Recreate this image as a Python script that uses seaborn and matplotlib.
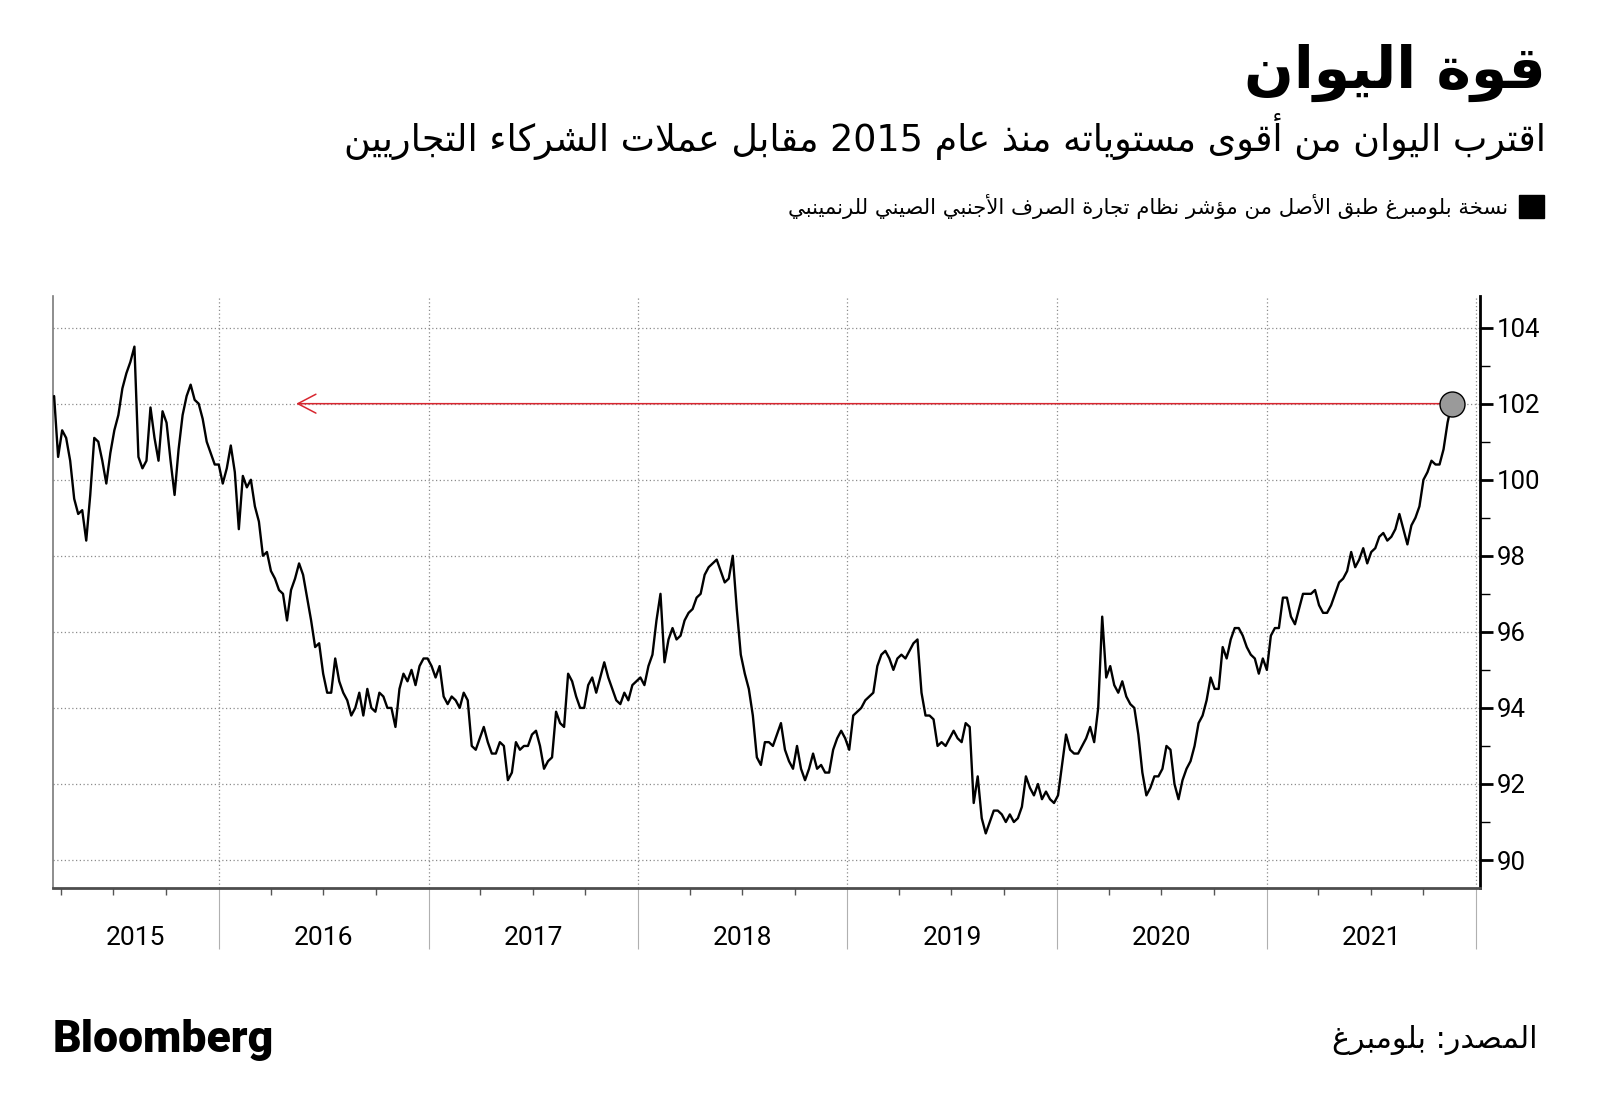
import re

import matplotlib
matplotlib.use('Agg')
import matplotlib.dates as mdates
import matplotlib.pyplot as plt
import matplotlib.transforms as mtransforms
import pandas as pd
import seaborn as sns
from matplotlib.patches import Rectangle
from matplotlib.ticker import MultipleLocator, NullFormatter

sns.set_theme(style='white')
plt.rcParams['font.family'] = ['DejaVu Sans']
plt.rcParams['figure.facecolor'] = 'white'
plt.rcParams['text.color'] = 'black'
plt.rcParams['xtick.color'] = 'black'
plt.rcParams['ytick.color'] = 'black'

# ---------------------------------------------------------------------------
# Data: weekly readings of Bloomberg's CFETS RMB index replica
# ---------------------------------------------------------------------------
START = '2015-03-20'
VALUES = [
    102.2, 100.6, 101.3, 101.1, 100.5, 99.5, 99.1, 99.2, 98.4, 99.6,
    101.1, 101.0, 100.5, 99.9, 100.7, 101.3, 101.7, 102.4, 102.8, 103.1,
    103.5, 100.6, 100.3, 100.5, 101.9, 101.1, 100.5, 101.8, 101.5, 100.5,
    99.6, 100.8, 101.7, 102.2, 102.5, 102.1, 102.0, 101.6, 101.0, 100.7,
    100.4, 100.4, 99.9, 100.3, 100.9, 100.2, 98.7, 100.1, 99.8, 100.0,
    99.3, 98.9, 98.0, 98.1, 97.6, 97.4, 97.1, 97.0, 96.3, 97.1,
    97.4, 97.8, 97.5, 96.9, 96.3, 95.6, 95.7, 94.9, 94.4, 94.4,
    95.3, 94.7, 94.4, 94.2, 93.8, 94.0, 94.4, 93.8, 94.5, 94.0,
    93.9, 94.4, 94.3, 94.0, 94.0, 93.5, 94.5, 94.9, 94.7, 95.0,
    94.6, 95.1, 95.3, 95.3, 95.1, 94.8, 95.1, 94.3, 94.1, 94.3,
    94.2, 94.0, 94.4, 94.2, 93.0, 92.9, 93.2, 93.5, 93.1, 92.8,
    92.8, 93.1, 93.0, 92.1, 92.3, 93.1, 92.9, 93.0, 93.0, 93.3,
    93.4, 93.0, 92.4, 92.6, 92.7, 93.9, 93.6, 93.5, 94.9, 94.7,
    94.3, 94.0, 94.0, 94.6, 94.8, 94.4, 94.8, 95.2, 94.8, 94.5,
    94.2, 94.1, 94.4, 94.2, 94.6, 94.7, 94.8, 94.6, 95.1, 95.4,
    96.3, 97.0, 95.2, 95.8, 96.1, 95.8, 95.9, 96.3, 96.5, 96.6,
    96.9, 97.0, 97.5, 97.7, 97.8, 97.9, 97.6, 97.3, 97.4, 98.0,
    96.6, 95.4, 94.9, 94.5, 93.8, 92.7, 92.5, 93.1, 93.1, 93.0,
    93.3, 93.6, 92.9, 92.6, 92.4, 93.0, 92.4, 92.1, 92.4, 92.8,
    92.4, 92.5, 92.3, 92.3, 92.9, 93.2, 93.4, 93.2, 92.9, 93.8,
    93.9, 94.0, 94.2, 94.3, 94.4, 95.1, 95.4, 95.5, 95.3, 95.0,
    95.3, 95.4, 95.3, 95.5, 95.7, 95.8, 94.4, 93.8, 93.8, 93.7,
    93.0, 93.1, 93.0, 93.2, 93.4, 93.2, 93.1, 93.6, 93.5, 91.5,
    92.2, 91.1, 90.7, 91.0, 91.3, 91.3, 91.2, 91.0, 91.2, 91.0,
    91.1, 91.4, 92.2, 91.9, 91.7, 92.0, 91.6, 91.8, 91.6, 91.5,
    91.7, 92.5, 93.3, 92.9, 92.8, 92.8, 93.0, 93.2, 93.5, 93.1,
    94.0, 96.4, 94.8, 95.1, 94.6, 94.4, 94.7, 94.3, 94.1, 94.0,
    93.3, 92.3, 91.7, 91.9, 92.2, 92.2, 92.4, 93.0, 92.9, 92.0,
    91.6, 92.1, 92.4, 92.6, 93.0, 93.6, 93.8, 94.2, 94.8, 94.5,
    94.5, 95.6, 95.3, 95.8, 96.1, 96.1, 95.9, 95.6, 95.4, 95.3,
    94.9, 95.3, 95.0, 95.9, 96.1, 96.1, 96.9, 96.9, 96.4, 96.2,
    96.6, 97.0, 97.0, 97.0, 97.1, 96.7, 96.5, 96.5, 96.7, 97.0,
    97.3, 97.4, 97.6, 98.1, 97.7, 97.9, 98.2, 97.8, 98.1, 98.2,
    98.5, 98.6, 98.4, 98.5, 98.7, 99.1, 98.7, 98.3, 98.8, 99.0,
    99.3, 100.0, 100.2, 100.5, 100.4, 100.4, 100.8, 101.5, 102.0,
]
YEARS = [2015, 2016, 2017, 2018, 2019, 2020, 2021]
Y_TICKS = [90, 92, 94, 96, 98, 100, 102, 104]
X_LIMITS = ('2015-03-18', '2022-01-07')
Y_LIMITS = (89.27, 104.83)
ARROW_TIP = '2016-05-15'  # where the red "same level as" arrow points

TITLE = 'قوة اليوان'
SUBTITLE = 'اقترب اليوان من أقوى مستوياته منذ عام 2015 مقابل عملات الشركاء التجاريين'
LEGEND = 'نسخة بلومبرغ طبق الأصل من مؤشر نظام تجارة الصرف الأجنبي الصيني للرنمينبي'
SOURCE = 'المصدر: بلومبرغ'

RED = '#d8262f'

# ---------------------------------------------------------------------------
# Minimal Arabic shaping (matplotlib has no bidi / contextual shaping)
# ---------------------------------------------------------------------------
FORMS = {
    'ء': (0xFE80, 1), 'أ': (0xFE83, 2), 'ؤ': (0xFE85, 2), 'ا': (0xFE8D, 2),
    'ب': (0xFE8F, 4), 'ة': (0xFE93, 2), 'ت': (0xFE95, 4), 'ج': (0xFE9D, 4),
    'خ': (0xFEA5, 4), 'د': (0xFEA9, 2), 'ذ': (0xFEAB, 2), 'ر': (0xFEAD, 2),
    'ز': (0xFEAF, 2), 'س': (0xFEB1, 4), 'ش': (0xFEB5, 4), 'ص': (0xFEB9, 4),
    'ط': (0xFEC1, 4), 'ظ': (0xFEC5, 4), 'ع': (0xFEC9, 4), 'غ': (0xFECD, 4),
    'ف': (0xFED1, 4), 'ق': (0xFED5, 4), 'ك': (0xFED9, 4), 'ل': (0xFEDD, 4),
    'م': (0xFEE1, 4), 'ن': (0xFEE5, 4), 'ه': (0xFEE9, 4), 'و': (0xFEED, 2),
    'ى': (0xFEEF, 2), 'ي': (0xFEF1, 4),
}
LAM_ALEF = {'ا': 0xFEFB, 'أ': 0xFEF7}


def shape(text):
    tokens, i = [], 0
    while i < len(text):
        if text[i] == 'ل' and i + 1 < len(text) and text[i + 1] in LAM_ALEF:
            tokens.append(('LA', text[i + 1]))
            i += 2
        else:
            tokens.append(text[i])
            i += 1

    def is_arabic(t):
        return isinstance(t, tuple) or t in FORMS

    def is_dual(t):
        return not isinstance(t, tuple) and t in FORMS and FORMS[t][1] == 4

    out = []
    for k, t in enumerate(tokens):
        prev = tokens[k - 1] if k > 0 else None
        nxt = tokens[k + 1] if k + 1 < len(tokens) else None
        jp = prev is not None and is_dual(prev) and is_arabic(t)
        if isinstance(t, tuple):
            out.append(chr(LAM_ALEF[t[1]] + (1 if jp else 0)))
            continue
        if t not in FORMS:
            out.append(t)
            continue
        base, n = FORMS[t]
        jn = n == 4 and nxt is not None and is_arabic(nxt)
        if n == 1:
            form = 0
        elif n == 2:
            form = 1 if jp else 0
        else:
            form = {(False, False): 0, (True, False): 1,
                    (False, True): 2, (True, True): 3}[(jp, jn)]
        out.append(chr(base + form))
    visual = ''.join(out)[::-1]
    return re.sub(r'[0-9]+', lambda m: m.group(0)[::-1], visual)


# ---------------------------------------------------------------------------
# Plot
# ---------------------------------------------------------------------------
df = pd.DataFrame({'date': pd.date_range(START, periods=len(VALUES), freq='7D'),
                   'index': VALUES})

fig = plt.figure(figsize=(16, 11.18), dpi=100)
ax = fig.add_axes([0.0331, 0.2059, 0.8917, 0.5293])

sns.lineplot(data=df, x='date', y='index', ax=ax, color='black', linewidth=1.7,
             zorder=4)

x0, x1 = pd.Timestamp(X_LIMITS[0]), pd.Timestamp(X_LIMITS[1])
ax.set_xlim(x0, x1)
ax.set_ylim(*Y_LIMITS)
ax.set_xlabel('')
ax.set_ylabel('')

# red arrow back to the last time the index was this high + end marker
last = df.iloc[-1]
ax.annotate('', xy=(pd.Timestamp(ARROW_TIP), last['index']),
            xytext=(last['date'], last['index']),
            arrowprops=dict(arrowstyle='->,head_length=0.65,head_width=0.34',
                            mutation_scale=20, color=RED, lw=1.1,
                            shrinkA=0, shrinkB=0), zorder=3)
ax.plot(last['date'], last['index'], marker='o', markersize=18,
        markerfacecolor='#9a9a9a', markeredgecolor='black', markeredgewidth=1,
        zorder=5)

# y axis on the right
ax.yaxis.tick_right()
ax.set_yticks(Y_TICKS)
ax.set_yticklabels([str(v) for v in Y_TICKS], family=['Roboto', 'DejaVu Sans'])
ax.yaxis.set_minor_locator(MultipleLocator(1))
ax.tick_params(axis='y', which='major', direction='out', length=9, width=2,
               colors='black', labelsize=18.5, pad=3, left=False, right=True)
ax.tick_params(axis='y', which='minor', direction='out', length=7, width=1,
               color='black', left=False, right=True)
ax.grid(axis='y', which='major', linestyle=(0, (1, 2)), color='#8c8c8c', lw=0.9)

# x axis: year boundaries, quarterly ticks, labels centred in each year
year_starts = [pd.Timestamp(f'{y + 1}-01-01') for y in YEARS]
ax.set_xticks(year_starts)
ax.xaxis.set_major_formatter(NullFormatter())
ax.xaxis.set_minor_locator(mdates.MonthLocator(bymonth=[4, 7, 10]))
ax.xaxis.set_minor_formatter(NullFormatter())
ax.tick_params(axis='x', which='major', direction='out', length=44, width=0.8,
               color='#b0b0b0', bottom=True)
ax.tick_params(axis='x', which='minor', direction='out', length=5, width=1,
               color='#555555', bottom=True)
ax.grid(axis='x', which='major', linestyle=(0, (1, 2)), color='#8c8c8c', lw=0.9)

trans = mtransforms.blended_transform_factory(ax.transData, ax.transAxes)
for y in YEARS:
    lo = max(pd.Timestamp(f'{y}-01-01'), x0)
    hi = min(pd.Timestamp(f'{y + 1}-01-01'), x1)
    ax.text(lo + (hi - lo) / 2, -0.084, str(y), transform=trans, ha='center',
            va='center', fontsize=19, family=['Roboto', 'DejaVu Sans'],
            color='black')

ax.spines['top'].set_visible(False)
ax.spines['left'].set_color('#7a7a7a')
ax.spines['left'].set_linewidth(1.2)
ax.spines['bottom'].set_color('#4d4d4d')
ax.spines['bottom'].set_linewidth(2)
ax.spines['right'].set_color('black')
ax.spines['right'].set_linewidth(2)

# ---------------------------------------------------------------------------
# Header / footer text
# ---------------------------------------------------------------------------
fig.text(0.966, 0.935, shape(TITLE), ha='right', va='center', fontsize=42,
         fontweight='bold', family=['DejaVu Sans'])
fig.text(0.966, 0.878, shape(SUBTITLE), ha='right', va='center', fontsize=26.3,
         family=['DejaVu Sans'])
fig.add_artist(Rectangle((1519 / 1600, 1 - 218 / 1118), 25 / 1600, 23 / 1118,
                         transform=fig.transFigure, color='black'))
fig.text(0.9425, 0.8157, shape(LEGEND), ha='right', va='center', fontsize=15.3,
         family=['DejaVu Sans'])
fig.text(0.033, 0.0698, 'Bloomberg', ha='left', va='center', fontsize=32,
         fontweight='black', family=['Roboto', 'DejaVu Sans'])
fig.text(0.961, 0.0698, shape(SOURCE), ha='right', va='center', fontsize=21.7,
         family=['DejaVu Sans'])

plt.savefig('out.png', dpi=100)
plt.close()
